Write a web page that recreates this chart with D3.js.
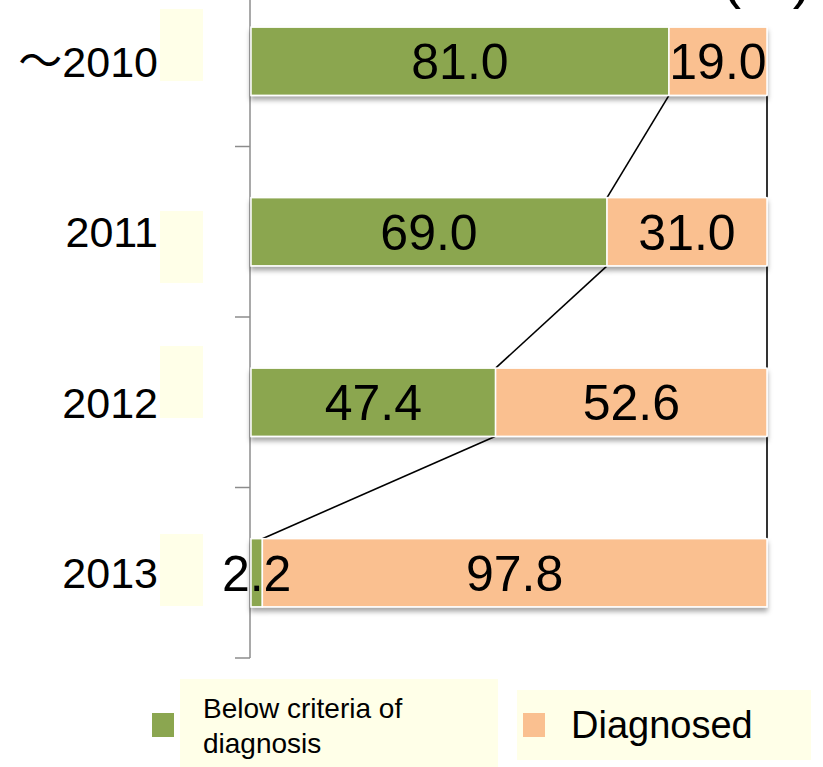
<!DOCTYPE html>
<html><head><meta charset="utf-8">
<script src="https://cdn.jsdelivr.net/npm/d3@7"></script>
<style>body{margin:0;background:#fff}svg{display:block}</style>
</head><body>
<script>
const categories = ["～2010", "2011", "2012", "2013"];
const below = [81.0, 69.0, 47.4, 2.2];
const diagnosed = [19.0, 31.0, 52.6, 97.8];
const seriesNames = ["Below criteria of diagnosis", "Diagnosed"];
const colors = ["#8BA650", "#FAC090"];
const unitLabel = "(%)";

const W = 823, H = 767;
const svg = d3.select("body").append("svg").attr("width", W).attr("height", H)
  .style("font-family", "'Liberation Sans', Arial, sans-serif");

const defs = svg.append("defs");
const f = defs.append("filter").attr("id", "sh").attr("x", "-5%").attr("y", "-20%").attr("width", "110%").attr("height", "160%");
f.append("feDropShadow").attr("dx", 0).attr("dy", 4).attr("stdDeviation", 2.5).attr("flood-color", "#000").attr("flood-opacity", 0.35);

const y = d3.scaleBand().domain(categories).range([-24, 658]).paddingInner(0.6).paddingOuter(0.3);
const x = d3.scaleLinear().domain([0, 100]).range([251, 767]);
const bw = y.bandwidth();
const step = y.step();

// axis
const axX = 250;
svg.append("line").attr("x1", axX).attr("x2", axX).attr("y1", 0).attr("y2", 658)
  .attr("stroke", "#8c8c8c").attr("stroke-width", 1.5);
const tickYs = d3.range(1, categories.length + 1).map(i => -24 + i * step);
svg.selectAll(".tk").data(tickYs).join("line")
  .attr("x1", 235).attr("x2", axX).attr("y1", d => d).attr("y2", d => d)
  .attr("stroke", "#8c8c8c").attr("stroke-width", 1.5);

// yellow boxes next to year labels
const boxTops = [9, 211, 346, 534];
svg.selectAll(".yb").data(categories).join("rect")
  .attr("x", 160).attr("width", 43)
  .attr("y", (d, i) => boxTops[i]).attr("height", 72)
  .attr("fill", "#FFFFE8");

// year labels
const yl = svg.selectAll(".yl").data(categories).join("text")
  .attr("x", 158).attr("y", d => y(d) + bw / 2)
  .attr("dy", "0.36em").attr("text-anchor", "end")
  .attr("font-size", 43).attr("fill", "#000");
yl.each(function(d) {
  const t = d3.select(this);
  if (d.startsWith("～")) {
    t.append("tspan").style("font-family", "'Noto Sans CJK JP', sans-serif").attr("font-size", 44).text("～");
    t.append("tspan").text(d.slice(1));
  } else t.text(d);
});

// connector lines
const conn = [];
for (let i = 0; i < categories.length - 1; i++) {
  conn.push({x1: x(below[i]), y1: y(categories[i]) + bw, x2: x(below[i + 1]), y2: y(categories[i + 1])});
  conn.push({x1: x(100), y1: y(categories[i]) + bw, x2: x(100), y2: y(categories[i + 1])});
}
svg.selectAll(".cn").data(conn).join("line")
  .attr("x1", d => d.x1).attr("y1", d => d.y1).attr("x2", d => d.x2).attr("y2", d => d.y2)
  .attr("stroke", "#000").attr("stroke-width", 1.6);

// bars
const rows = categories.map((c, i) => ({c, segs: [
  {v: below[i], x0: 0, x1: below[i], col: colors[0]},
  {v: diagnosed[i], x0: below[i], x1: below[i] + diagnosed[i], col: colors[1]}
]}));
const g = svg.selectAll(".row").data(rows).join("g");
g.append("g").attr("filter", "url(#sh)").selectAll("rect").data(d => d.segs.map(s => ({...s, c: d.c}))).join("rect")
  .attr("x", d => x(d.x0)).attr("width", d => x(d.x1) - x(d.x0))
  .attr("y", d => y(d.c)).attr("height", bw)
  .attr("fill", d => d.col).attr("stroke", "#fff").attr("stroke-width", 1.5);
g.selectAll("text").data(d => d.segs.map(s => ({...s, c: d.c}))).join("text")
  .attr("x", d => (x(d.x0) + x(d.x1)) / 2).attr("y", d => y(d.c) + bw / 2)
  .attr("dy", "0.36em").attr("text-anchor", "middle")
  .attr("font-size", 50).attr("fill", "#000").text(d => d.v.toFixed(1));

// unit label (cropped at top, as in the reference)
svg.append("text").attr("x", 812).attr("y", -3).attr("text-anchor", "end")
  .attr("font-size", 58).attr("fill", "#000").text(unitLabel);

// legend
svg.append("rect").attr("x", 180).attr("y", 679).attr("width", 318).attr("height", 88).attr("fill", "#FFFFE8");
svg.append("rect").attr("x", 517).attr("y", 690).attr("width", 294).attr("height", 70).attr("fill", "#FFFFE8");
svg.append("rect").attr("x", 152).attr("y", 713).attr("width", 22).attr("height", 24).attr("fill", colors[0]);
svg.append("rect").attr("x", 523).attr("y", 713).attr("width", 22).attr("height", 24).attr("fill", colors[1]);
const lt = svg.append("text").attr("x", 203).attr("y", 718).attr("font-size", 28).attr("fill", "#000");
lt.append("tspan").attr("x", 203).text("Below criteria of");
lt.append("tspan").attr("x", 203).attr("y", 753).text("diagnosis");
svg.append("text").attr("x", 571).attr("y", 738).attr("font-size", 38).attr("fill", "#000").text(seriesNames[1]);
</script>
</body></html>
